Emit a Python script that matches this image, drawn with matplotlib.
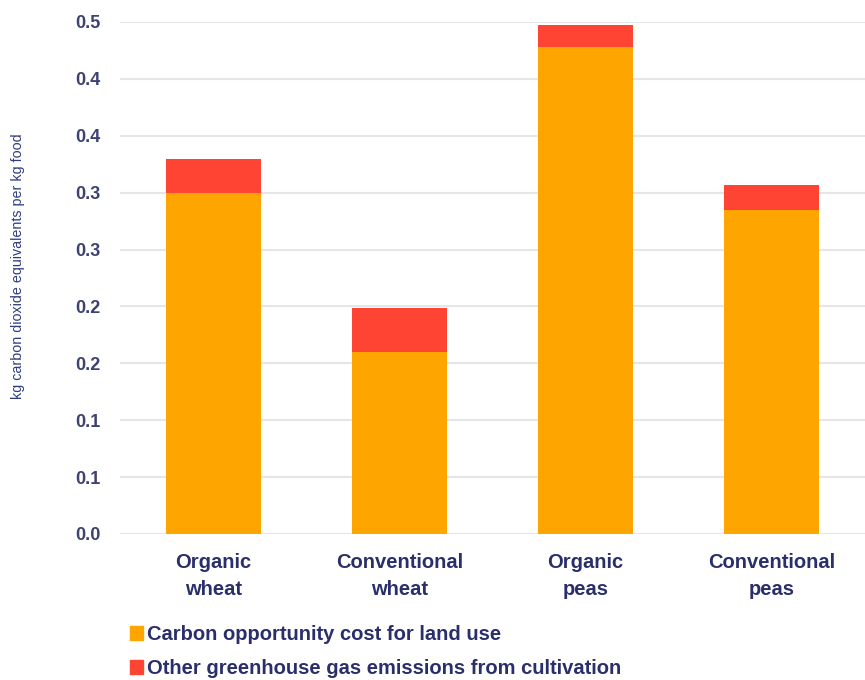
import matplotlib
matplotlib.use("Agg")
import matplotlib.pyplot as plt
from matplotlib.ticker import FixedLocator, FuncFormatter
from matplotlib.patches import Patch

categories = ["Organic\nwheat", "Conventional\nwheat", "Organic\npeas", "Conventional\npeas"]
land_use = [0.300, 0.160, 0.428, 0.285]
other_ghg = [0.030, 0.039, 0.019, 0.022]
yticks = [0.0, 0.05, 0.10, 0.15, 0.20, 0.25, 0.30, 0.35, 0.40, 0.45]
series_names = ["Carbon opportunity cost for land use",
                "Other greenhouse gas emissions from cultivation"]

orange = "#FFA500"
red = "#FF4433"
navy = "#2A2F6B"

plt.rcParams['font.family'] = ['Liberation Sans', 'DejaVu Sans']

W, H = 865, 680
fig = plt.figure(figsize=(W / 100, H / 100), dpi=100)
ax = fig.add_axes([120 / W, (H - 534) / H, (W - 120) / W, (534 - 22) / H])

x = list(range(len(categories)))
ax.bar(x, land_use, width=0.51, color=orange, zorder=3)
ax.bar(x, other_ghg, width=0.51, bottom=land_use, color=red, zorder=3)

ax.set_xlim(-0.5, 3.5)
ax.set_ylim(0, 0.45)
ax.yaxis.set_major_locator(FixedLocator(yticks))
ax.yaxis.set_major_formatter(FuncFormatter(lambda v, p: f"{v + 1e-9:.1f}"))
ax.grid(axis='y', color='#e6e6e6', linewidth=1.5, zorder=0)
ax.set_axisbelow(True)
for s in ax.spines.values():
    s.set_visible(False)
ax.tick_params(axis='both', length=0)
ax.tick_params(axis='y', pad=14, labelsize=13, labelcolor='#3d4270')
ax.set_xticks(x)
ax.set_xticklabels(categories, fontsize=14.5, fontweight='bold', color=navy,
                   linespacing=1.5)
ax.tick_params(axis='x', pad=14)
for t in ax.get_yticklabels():
    t.set_fontweight('bold')

fig.text(18 / W, (H - 266) / H, "kg carbon dioxide equivalents per kg food",
         rotation=90, ha='center', va='center', fontsize=10.3, color='#2f3d80')

handles = [Patch(color=orange), Patch(color=red)]
fig.legend(handles, series_names, loc='upper left',
           bbox_to_anchor=(130 / W, (H - 625) / H), frameon=False,
           prop={'size': 14.5, 'weight': 'bold'}, labelcolor=navy,
           handlelength=0.65, handleheight=0.65, handletextpad=0.2,
           labelspacing=0.75, borderpad=0, borderaxespad=0)

fig.savefig("out.png", dpi=100)
